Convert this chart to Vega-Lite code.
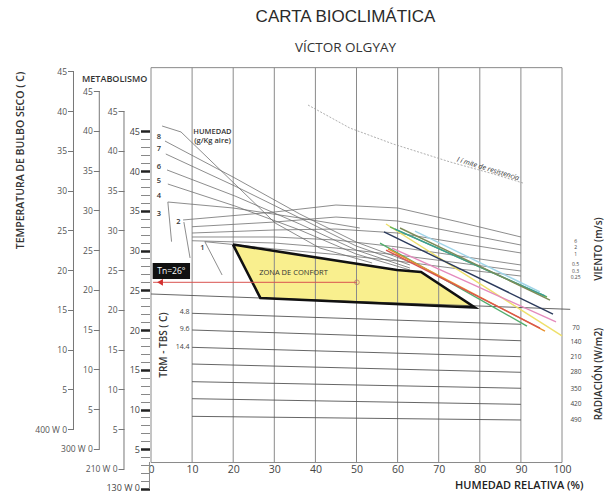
{
  "$schema": "https://vega.github.io/schema/vega-lite/v6.json",
  "width": 411,
  "height": 426,
  "autosize": "none",
  "padding": {"left": 151, "top": 67, "right": 42, "bottom": 0},
  "background": "white",
  "title": {
    "text": "CARTA BIOCLIMÁTICA",
    "subtitle": "VÍCTOR OLGYAY",
    "anchor": "middle",
    "frame": "group",
    "dx": -11,
    "offset": 11.5,
    "font": "Liberation Sans",
    "fontSize": 17,
    "fontWeight": "normal",
    "color": "#2a2a2a",
    "subtitleFont": "Open Sans",
    "subtitleFontSize": 13.5,
    "subtitleColor": "#333333",
    "subtitlePadding": 15
  },
  "config": {"view": {"stroke": null}, "font": "Open Sans"},
  "datasets": {
    "grid": [
      {"h": 10, "t": 3.33, "t2": 53.0}, {"h": 20, "t": 3.33, "t2": 53.0}, {"h": 30, "t": 3.33, "t2": 53.0},
      {"h": 40, "t": 3.33, "t2": 53.0}, {"h": 50, "t": 3.33, "t2": 53.0}, {"h": 60, "t": 3.33, "t2": 53.0},
      {"h": 70, "t": 3.33, "t2": 53.0}, {"h": 80, "t": 3.33, "t2": 53.0}, {"h": 90, "t": 3.33, "t2": 53.0}
    ],
    "frame": [{"h": 0, "h2": 100, "t": 3.33, "t2": 53.0}],
    "innerLine": [{"h": -0.37, "t": 0, "t2": 3.4}],
    "zone": [
      {"h": 19.95, "t": 30.75, "t2": 30.75},
      {"h": 26.6, "t": 30.22, "t2": 24.03},
      {"h": 59.85, "t": 27.55, "t2": 23.27},
      {"h": 65.7, "t": 27.3, "t2": 23.13},
      {"h": 78.8, "t": 22.83, "t2": 22.83}
    ],
    "outline": [
      {"o": 1, "h": 19.95, "t": 30.75}, {"o": 2, "h": 59.85, "t": 27.55}, {"o": 3, "h": 65.7, "t": 27.3},
      {"o": 4, "h": 78.8, "t": 22.83}, {"o": 5, "h": 26.6, "t": 24.03}, {"o": 6, "h": 19.95, "t": 30.75}
    ],
    "wind": [
      {"id": "w1", "h": 7.8, "t": 33.84}, {"id": "w1", "h": 30, "t": 34.84}, {"id": "w1", "h": 45, "t": 35.72}, {"id": "w1", "h": 60, "t": 35.35}, {"id": "w1", "h": 75, "t": 33.58}, {"id": "w1", "h": 90, "t": 31.7},
      {"id": "w2", "h": 10, "t": 32.99}, {"id": "w2", "h": 30, "t": 33.58}, {"id": "w2", "h": 45, "t": 34.21}, {"id": "w2", "h": 60, "t": 33.71}, {"id": "w2", "h": 75, "t": 32.2}, {"id": "w2", "h": 90, "t": 30.69},
      {"id": "w3", "h": 10, "t": 32.2}, {"id": "w3", "h": 30, "t": 32.58}, {"id": "w3", "h": 45, "t": 32.7}, {"id": "w3", "h": 60, "t": 32.2}, {"id": "w3", "h": 75, "t": 30.94}, {"id": "w3", "h": 90, "t": 29.69},
      {"id": "w4", "h": 10, "t": 31.7}, {"id": "w4", "h": 30, "t": 31.7}, {"id": "w4", "h": 45, "t": 31.32}, {"id": "w4", "h": 60, "t": 30.44}, {"id": "w4", "h": 75, "t": 29.31}, {"id": "w4", "h": 90, "t": 28.18},
      {"id": "w5", "h": 10, "t": 31.23}, {"id": "w5", "h": 30, "t": 30.94}, {"id": "w5", "h": 45, "t": 30.31}, {"id": "w5", "h": 60, "t": 29.43}, {"id": "w5", "h": 75, "t": 28.43}, {"id": "w5", "h": 90, "t": 27.42},
      {"id": "w6", "h": 13.1, "t": 31.11}, {"id": "w6", "h": 20, "t": 30.75}, {"id": "w6", "h": 30, "t": 30.19}, {"id": "w6", "h": 45, "t": 29.5}, {"id": "w6", "h": 60, "t": 28.68}, {"id": "w6", "h": 75, "t": 27.67}, {"id": "w6", "h": 90, "t": 26.79},
      {"id": "S", "h": 2.7, "t": 45.66}, {"id": "S", "h": 7.3, "t": 44.91}, {"id": "S", "h": 30.2, "t": 33.46}, {"id": "S", "h": 41.1, "t": 30.31}, {"id": "S", "h": 53.8, "t": 28.43},
      {"id": "L8", "h": 3.4, "t": 43.77}, {"id": "L8", "h": 20.4, "t": 39.12}, {"id": "L8", "h": 36.2, "t": 34.59}, {"id": "L8", "h": 49.9, "t": 31.07}, {"id": "L8", "h": 63.0, "t": 28.55},
      {"id": "L7", "h": 3.6, "t": 42.14}, {"id": "L7", "h": 20.4, "t": 38.11}, {"id": "L7", "h": 36.2, "t": 34.09}, {"id": "L7", "h": 49.9, "t": 30.57}, {"id": "L7", "h": 63.0, "t": 28.18},
      {"id": "L6", "h": 3.9, "t": 40.13}, {"id": "L6", "h": 20.4, "t": 36.86}, {"id": "L6", "h": 36.2, "t": 33.33}, {"id": "L6", "h": 49.9, "t": 30.06}, {"id": "L6", "h": 63.0, "t": 27.8},
      {"id": "L5", "h": 4.1, "t": 38.36}, {"id": "L5", "h": 20.4, "t": 35.6}, {"id": "L5", "h": 36.2, "t": 32.58}, {"id": "L5", "h": 49.9, "t": 29.56}, {"id": "L5", "h": 63.0, "t": 27.55},
      {"id": "L4", "h": 4.1, "t": 36.1}, {"id": "L4", "h": 19.9, "t": 35.35}, {"id": "L4", "h": 36.2, "t": 34.09}, {"id": "L4", "h": 50.8, "t": 32.83},
      {"id": "L4v", "h": 4.1, "t": 36.1}, {"id": "L4v", "h": 5.0, "t": 31.11},
      {"id": "V2", "h": 8.0, "t": 33.58}, {"id": "V2", "h": 9.5, "t": 29.06},
      {"id": "D1", "h": 13.1, "t": 31.11}, {"id": "D1", "h": 17.3, "t": 26.92}
    ],
    "rad": [
      {"id": "r1", "h": 10, "t": 22.1}, {"id": "r1", "h": 90, "t": 20.72},
      {"id": "r2", "h": 10, "t": 20.0}, {"id": "r2", "h": 90, "t": 18.65},
      {"id": "r3", "h": 10, "t": 17.82}, {"id": "r3", "h": 90, "t": 16.64},
      {"id": "r4", "h": 10, "t": 15.72}, {"id": "r4", "h": 90, "t": 14.68},
      {"id": "r5", "h": 10, "t": 13.5}, {"id": "r5", "h": 90, "t": 12.67},
      {"id": "r6", "h": 10, "t": 11.36}, {"id": "r6", "h": 90, "t": 10.65},
      {"id": "r7", "h": 10, "t": 9.14}, {"id": "r7", "h": 90, "t": 8.68},
      {"id": "base", "h": 0, "t": 24.53}, {"id": "base", "h": 102, "t": 22.6}
    ],
    "limite": [
      {"h": 38.2, "t": 48.3}, {"h": 48.4, "t": 45.4}, {"h": 58.9, "t": 43.4}, {"h": 72.8, "t": 41.13}, {"h": 82.5, "t": 39.75}, {"h": 90.5, "t": 38.49}
    ],
    "colored": [
      {"c": "amarillo", "h": 57.18, "t": 33.33}, {"c": "amarillo", "h": 100, "t": 19.25},
      {"c": "verde", "h": 58.15, "t": 32.96}, {"c": "verde", "h": 96.35, "t": 24.15},
      {"c": "turquesa", "h": 59.37, "t": 32.7}, {"c": "turquesa", "h": 95.86, "t": 24.28},
      {"c": "celeste", "h": 64.23, "t": 32.45}, {"c": "celeste", "h": 94.65, "t": 24.78},
      {"c": "azul", "h": 56.69, "t": 32.33}, {"c": "azul", "h": 97.81, "t": 22.01},
      {"c": "oliva", "h": 60.58, "t": 32.83}, {"c": "oliva", "h": 97.08, "t": 23.77},
      {"c": "rosa", "h": 58.64, "t": 30.31}, {"c": "rosa", "h": 98.54, "t": 21.01},
      {"c": "verde2", "h": 55.72, "t": 30.94}, {"c": "verde2", "h": 91.48, "t": 20.5},
      {"c": "naranja", "h": 57.66, "t": 30.19}, {"c": "naranja", "h": 95.86, "t": 19.87},
      {"c": "rojo", "h": 57.18, "t": 30.06}, {"c": "rojo", "h": 94.65, "t": 20.25}
    ],
    "tnline": [{"h": 0.5, "t": 26.0}, {"h": 50.1, "t": 26.0}],
    "tnend": [{"h": 50.1, "t": 26.0}],
    "tnarrow": [{"h": 2.2, "t": 26.0}],
    "tnbox": [{"h": 0.4, "h2": 9.5, "t": 28.43, "t2": 26.42}],
    "tntext": [{"h": 4.95, "t": 27.42, "txt": "Tn=26°"}],
    "hlab": [
      {"h": 1.95, "t": 44.24, "txt": "8"}, {"h": 1.95, "t": 42.73, "txt": "7"}, {"h": 1.95, "t": 40.54, "txt": "6"},
      {"h": 1.95, "t": 38.78, "txt": "5"}, {"h": 1.95, "t": 36.86, "txt": "4"}, {"h": 1.95, "t": 34.55, "txt": "3"},
      {"h": 6.64, "t": 33.62, "txt": "2"}, {"h": 12.48, "t": 30.28, "txt": "1"}
    ],
    "humedad": [
      {"h": 14.96, "t": 44.88, "txt": "HUMEDAD"}, {"h": 14.96, "t": 43.75, "txt": "(g/Kg aire)"}
    ],
    "zonatxt": [{"h": 34.67, "t": 27.17, "txt": "ZONA DE CONFORT"}],
    "radlab": [
      {"h": 9.37, "t": 22.3, "txt": "4.8"}, {"h": 9.37, "t": 20.09, "txt": "9.6"}, {"h": 9.37, "t": 17.9, "txt": "14.4"}
    ],
    "windlab": [
      {"h": 103.3, "t": 31.16, "txt": "6"}, {"h": 103.3, "t": 30.38, "txt": "2"}, {"h": 103.3, "t": 29.6, "txt": "1"},
      {"h": 103.3, "t": 28.24, "txt": "0.5"}, {"h": 103.3, "t": 27.46, "txt": "0.3"}, {"h": 103.3, "t": 26.68, "txt": "0.25"}
    ],
    "radrlab": [
      {"h": 103.4, "t": 20.25, "txt": "70"}, {"h": 103.4, "t": 18.45, "txt": "140"}, {"h": 103.4, "t": 16.6, "txt": "210"},
      {"h": 103.4, "t": 14.72, "txt": "280"}, {"h": 103.4, "t": 12.58, "txt": "350"}, {"h": 103.4, "t": 10.69, "txt": "420"},
      {"h": 103.4, "t": 8.68, "txt": "490"}
    ],
    "vtitles": [
      {"h": 3.1, "t": 18.11, "txt": "TRM - TBS ( C)"},
      {"h": 109.0, "t": 30.19, "txt": "VIENTO (m/s)"},
      {"h": 109.0, "t": 14.46, "txt": "RADIACIÓN (W/m2)"}
    ],
    "limtxt": [{"h": 82.0, "t": 40.25, "txt": "l í mite de resistencia"}]
  },
  "encoding": {
    "x": {
      "field": "h",
      "type": "quantitative",
      "scale": {"domain": [0, 100], "nice": false, "zero": false},
      "axis": {
        "orient": "bottom",
        "offset": -31,
        "values": [0, 10, 20, 30, 40, 50, 60, 70, 80, 90, 100],
        "domain": false,
        "ticks": false,
        "tickSize": 0,
        "grid": false,
        "labelPadding": 2,
        "labelFontSize": 10.5,
        "labelColor": "#444444",
        "labelFlush": false,
        "labelOverlap": false,
        "title": "HUMEDAD RELATIVA (%)",
        "titleX": 432,
        "titleY": 23,
        "titleAlign": "right",
        "titleBaseline": "middle",
        "titleFontSize": 11,
        "titleFontWeight": 600,
        "titleColor": "#222222"
      }
    }
  },
  "layer": [
    {
      "data": {"values": [{"h": -18.86, "t": 0, "t2": 45}]},
      "mark": {"type": "rule", "color": "#777777", "strokeWidth": 1},
      "encoding": {
        "y": {
          "field": "t", "type": "quantitative",
          "scale": {"domain": [-8.05, 45.535], "nice": false, "zero": false},
          "axis": {
            "orient": "left", "offset": 77.5,
            "values": [0, 5, 10, 15, 20, 25, 30, 35, 40, 45],
            "domain": false, "grid": false, "tickSize": 6, "tickColor": "#777777",
            "labelPadding": 1, "labelFontSize": 8.5, "labelColor": "#555555",
            "labelExpr": "datum.value === 0 ? '400 W  0' : datum.label",
            "labelOverlap": false, "labelFlush": false, "labelBound": false,
            "title": "TEMPERATURA DE BULBO SECO ( C)",
            "titleX": -53.5, "titleY": 93, "titleAngle": 270, "titleAlign": "center", "titleBaseline": "middle",
            "titleFontSize": 10.5, "titleFontWeight": 600, "titleColor": "#333333"
          }
        },
        "y2": {"field": "t2"}
      }
    },
    {
      "data": {"values": [{"h": -12.58, "t": 0, "t2": 45}]},
      "mark": {"type": "rule", "color": "#777777", "strokeWidth": 1},
      "encoding": {
        "y": {
          "field": "t", "type": "quantitative",
          "scale": {"domain": [-5.535, 48.05], "nice": false, "zero": false},
          "axis": {
            "orient": "left", "offset": 51.7,
            "values": [0, 5, 10, 15, 20, 25, 30, 35, 40, 45],
            "domain": false, "grid": false, "tickSize": 6, "tickColor": "#777777",
            "labelPadding": 1, "labelFontSize": 8.5, "labelColor": "#555555",
            "labelExpr": "datum.value === 0 ? '300 W  0' : datum.label",
            "labelOverlap": false, "labelFlush": false, "labelBound": false,
            "title": "METABOLISMO",
            "titleX": 14.9, "titleY": 11.3, "titleAngle": 0, "titleAlign": "center", "titleBaseline": "middle",
            "titleFontSize": 9, "titleFontWeight": 600, "titleColor": "#333333"
          }
        },
        "y2": {"field": "t2"}
      }
    },
    {
      "data": {"values": [{"h": -6.57, "t": 0, "t2": 45}]},
      "mark": {"type": "rule", "color": "#777777", "strokeWidth": 1},
      "encoding": {
        "y": {
          "field": "t", "type": "quantitative",
          "scale": {"domain": [-3.019, 50.566], "nice": false, "zero": false},
          "axis": {
            "orient": "left", "offset": 27,
            "values": [0, 5, 10, 15, 20, 25, 30, 35, 40, 45],
            "domain": false, "grid": false, "tickSize": 6, "tickColor": "#777777",
            "labelPadding": 1, "labelFontSize": 8.5, "labelColor": "#555555",
            "labelExpr": "datum.value === 0 ? '210 W  0' : datum.label",
            "labelOverlap": false, "labelFlush": false, "labelBound": false,
            "title": null
          }
        },
        "y2": {"field": "t2"}
      }
    },
    {
      "encoding": {
        "y": {
          "field": "t", "type": "quantitative",
          "scale": {"domain": [-0.503, 53.082], "nice": false, "zero": false},
          "axis": {
            "orient": "left", "offset": 1.5,
            "values": [0,1,2,3,4,5,6,7,8,9,10,11,12,13,14,15,16,17,18,19,20,21,22,23,24,25,26,27,28,29,30,31,32,33,34,35,36,37,38,39,40,41,42,43,44,45],
            "domain": false, "grid": false, "tickSize": 9,
            "tickWidth": {"condition": {"test": "datum.value % 5 === 0", "value": 2.5}, "value": 1},
            "tickColor": {"condition": {"test": "datum.value % 5 === 0", "value": "#222222"}, "value": "#888888"},
            "labelOffset": {"condition": {"test": "datum.value === 0", "value": -2}, "value": 0},
            "labelPadding": 1, "labelFontSize": 9, "labelColor": "#444444",
            "labelExpr": "datum.value % 5 === 0 ? (datum.value === 0 ? '130 W  0' : datum.label) : ''",
            "labelOverlap": false, "labelFlush": false, "labelBound": false,
            "title": null
          }
        }
      },
      "layer": [
        {
          "data": {"name": "zone"},
          "mark": {"type": "area", "color": "#f9ef8e", "opacity": 1},
          "encoding": {"y2": {"field": "t2"}}
        },
        {
          "data": {"name": "frame"},
          "mark": {"type": "rect", "fill": "transparent", "stroke": "#8a8a8a", "strokeWidth": 1},
          "encoding": {"x2": {"field": "h2"}, "y2": {"field": "t2"}}
        },
        {
          "data": {"name": "grid"},
          "mark": {"type": "rule", "color": "#8a8a8a", "strokeWidth": 1},
          "encoding": {"y2": {"field": "t2"}}
        },
        {
          "data": {"name": "innerLine"},
          "mark": {"type": "rule", "color": "#8a8a8a", "strokeWidth": 1},
          "encoding": {"y2": {"field": "t2"}}
        },
        {
          "data": {"name": "rad"},
          "mark": {"type": "line", "color": "#555555", "strokeWidth": 0.9},
          "encoding": {"detail": {"field": "id", "type": "nominal"}}
        },
        {
          "data": {"name": "wind"},
          "mark": {"type": "line", "color": "#707070", "strokeWidth": 0.8},
          "encoding": {"detail": {"field": "id", "type": "nominal"}}
        },
        {
          "data": {"name": "limite"},
          "mark": {"type": "line", "color": "#9a9a9a", "strokeWidth": 0.8, "strokeDash": [2, 1.5]},
          "encoding": {}
        },
        {
          "data": {"name": "colored"},
          "mark": {"type": "line", "strokeWidth": 1.4},
          "encoding": {
            "color": {
              "field": "c", "type": "nominal", "legend": null,
              "scale": {
                "domain": ["amarillo", "verde", "turquesa", "celeste", "azul", "oliva", "rosa", "verde2", "naranja", "rojo"],
                "range": ["#eee06a", "#62b35c", "#3a9d96", "#9fd4e8", "#2b3a5c", "#7c8b58", "#e48bbd", "#52ad6d", "#e8912c", "#d9534f"]
              }
            }
          }
        },
        {
          "data": {"name": "outline"},
          "mark": {"type": "line", "color": "#111111", "strokeWidth": 2.6, "strokeJoin": "miter"},
          "encoding": {"order": {"field": "o", "type": "quantitative"}}
        },
        {
          "data": {"name": "tnline"},
          "mark": {"type": "line", "color": "#d9534f", "strokeWidth": 1},
          "encoding": {}
        },
        {
          "data": {"name": "tnend"},
          "mark": {"type": "point", "shape": "circle", "filled": false, "color": "#b86a6a", "size": 22, "strokeWidth": 1}
        },
        {
          "data": {"name": "tnbox"},
          "mark": {"type": "rect", "color": "#111111"},
          "encoding": {"x2": {"field": "h2"}, "y2": {"field": "t2"}}
        },
        {
          "data": {"name": "tnarrow"},
          "mark": {"type": "point", "shape": "triangle-left", "filled": true, "color": "#d32f2f", "size": 45, "opacity": 1}
        },
        {
          "data": {"name": "tntext"},
          "mark": {"type": "text", "color": "#ffffff", "fontSize": 8.5, "align": "center", "baseline": "middle"},
          "encoding": {"text": {"field": "txt"}}
        },
        {
          "data": {"name": "hlab"},
          "mark": {"type": "text", "color": "#333333", "fontSize": 7.5, "fontWeight": 600, "align": "center", "baseline": "middle"},
          "encoding": {"text": {"field": "txt"}}
        },
        {
          "data": {"name": "humedad"},
          "mark": {"type": "text", "color": "#333333", "fontSize": 7.5, "fontWeight": 600, "align": "center", "baseline": "middle"},
          "encoding": {"text": {"field": "txt"}}
        },
        {
          "data": {"name": "zonatxt"},
          "mark": {"type": "text", "color": "#333333", "fontSize": 7.5, "align": "center", "baseline": "middle"},
          "encoding": {"text": {"field": "txt"}}
        },
        {
          "data": {"name": "radlab"},
          "mark": {"type": "text", "color": "#444444", "fontSize": 7, "align": "right", "baseline": "middle"},
          "encoding": {"text": {"field": "txt"}}
        },
        {
          "data": {"name": "windlab"},
          "mark": {"type": "text", "color": "#444444", "fontSize": 5, "align": "center", "baseline": "middle"},
          "encoding": {"text": {"field": "txt"}}
        },
        {
          "data": {"name": "radrlab"},
          "mark": {"type": "text", "color": "#444444", "fontSize": 6.5, "align": "center", "baseline": "middle"},
          "encoding": {"text": {"field": "txt"}}
        },
        {
          "data": {"name": "vtitles"},
          "mark": {"type": "text", "color": "#333333", "fontSize": 10, "fontWeight": 600, "angle": 270, "align": "center", "baseline": "middle"},
          "encoding": {"text": {"field": "txt"}}
        },
        {
          "data": {"name": "limtxt"},
          "mark": {"type": "text", "color": "#333333", "fontSize": 7, "fontStyle": "italic", "angle": 17, "align": "center", "baseline": "middle"},
          "encoding": {"text": {"field": "txt"}}
        }
      ]
    }
  ],
  "resolve": {"scale": {"y": "independent"}, "axis": {"y": "independent"}}
}
